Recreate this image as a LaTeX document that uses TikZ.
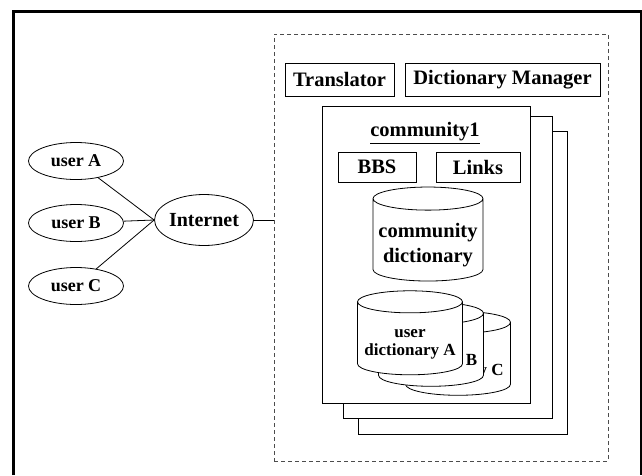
\documentclass[tikz,border=0pt]{standalone}
\usepackage{fontspec}
\setmainfont{Liberation Serif}
\usetikzlibrary{shapes.geometric}

\begin{document}
\begin{tikzpicture}[x=1pt,y=-1pt,line width=0.8pt,
  user/.style={ellipse,draw,minimum width=95pt,minimum height=37pt,inner sep=0pt,font=\fontsize{18}{20}\selectfont\bfseries},
  box/.style={draw,rectangle,inner sep=0pt,minimum height=#1,font=\fontsize{20.5}{24}\selectfont\bfseries},
  page/.style={draw,fill=white,inner sep=0pt,minimum width=209pt},
  db/.style={cylinder,shape border rotate=90,draw,fill=white,aspect=0.21,inner sep=0pt},
  dbtext/.style={align=center,inner sep=0pt,font=\fontsize{17}{18}\selectfont\bfseries}]
\useasboundingbox (0,0) rectangle (642,475);
\draw[line width=3pt] (13.5,475) -- (13.5,11.5) -- (641,11.5) -- (641,475);

\node [user] (ua) at (76,161) {user A};
\node [user] (ub) at (76,223) {user B};
\node [user] (uc) at (76,286) {user C};
\node [ellipse,draw,minimum width=98pt,minimum height=51pt,inner sep=0pt,font=\fontsize{20}{24}\selectfont\bfseries] (inet) at (204,220) {Internet};

\node [draw=black!70,dash pattern=on 4pt off 3pt,minimum width=334pt,minimum height=427pt,inner sep=0pt] (srv) at (441,247.5) {};
\node [box=33pt,minimum width=109pt] (trans) at (339.5,79.5) {Translator};
\node [box=33pt,minimum width=195pt] (dman) at (502.5,79.5) {Dictionary Manager};

\node [page,minimum height=303pt] (p3) at (462.5,282.5) {};
\node [page,minimum height=302pt] (p2) at (447.5,267) {};
\node [page,minimum width=208pt,minimum height=297pt] (p1) at (426,254.5) {};
\node [font=\fontsize{20.5}{24}\selectfont\bfseries] (com) at (425,133) {\underline{community1}};
\node [box=30pt,minimum width=78pt] (bbs) at (377,167) {BBS};
\node [box=30pt,minimum width=84pt] (links) at (478,167) {Links};

\node [db,minimum height=94pt] (cdic) at (428,240) {\hspace*{110pt}};
\node [dbtext,font=\fontsize{20.5}{25}\selectfont\bfseries] (cdictxt) at (428,245.5) {community\\dictionary};

\node [db,minimum height=84pt] (udc) at (458,359) {\hspace*{105pt}};
\node [dbtext] (udctxt) at (458,364) {user\\dictionary C};
\node [db,minimum height=84pt] (udb) at (431,350) {\hspace*{105pt}};
\node [dbtext] (udbtxt) at (432,354) {user\\dictionary B};
\node [db,minimum height=84pt] (uda) at (410,338.5) {\hspace*{105pt}};
\node [dbtext] (udatxt) at (410,344) {user\\dictionary A};

\draw (ua) -- (inet.west);
\draw (ub) -- (inet.west);
\draw (uc) -- (inet.west);
\draw (inet.east) -- (srv.west |- inet.east);
\end{tikzpicture}
\end{document}
